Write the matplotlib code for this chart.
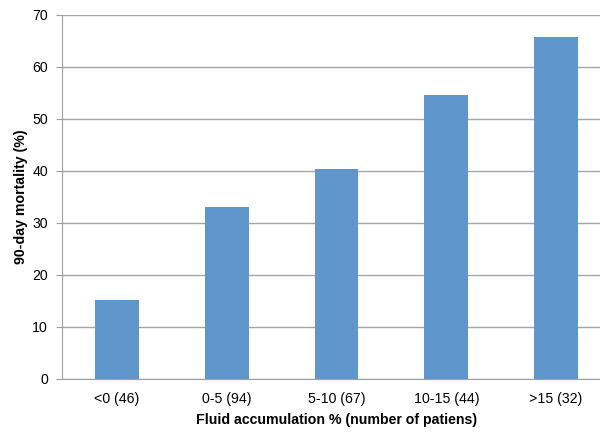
import matplotlib.pyplot as plt
import numpy as np

plt.rcParams['font.family'] = ['Liberation Sans', 'DejaVu Sans']

categories = ['<0 (46)', '0-5 (94)', '5-10 (67)', '10-15 (44)', '>15 (32)']
mortality = [15.1, 33.0, 40.3, 54.5, 65.7]

fig = plt.figure(figsize=(6, 4.42), dpi=100)
# plot area runs past the right edge, as in the original crop
ax = fig.add_axes([62/600, 1-378.5/442, 549/600, 363.5/442])

x = np.arange(len(categories))
ax.bar(x, mortality, width=0.4, color='#5f96cc', zorder=3)

ax.set_xlim(-0.5, 4.5)
ax.set_ylim(0, 70)
ax.set_yticks(range(0, 71, 10))
ax.set_xticks(x)
ax.set_xticklabels(categories, fontsize=10.2)
ax.tick_params(axis='y', labelsize=10.2, length=4, color='#a0a0a0', pad=6)
ax.tick_params(axis='x', length=0, pad=10)

ax.grid(axis='y', color='#a6a6a6', linewidth=1, zorder=0)
for s in ['top', 'right']:
    ax.spines[s].set_visible(False)
for s in ['left', 'bottom']:
    ax.spines[s].set_color('#a0a0a0')

ax.set_xlabel('Fluid accumulation % (number of patiens)', fontsize=10.2, fontweight='bold', labelpad=5)
ax.set_ylabel('90-day mortality (%)', fontsize=10.2, fontweight='bold', labelpad=3)

fig.savefig('out.png')
